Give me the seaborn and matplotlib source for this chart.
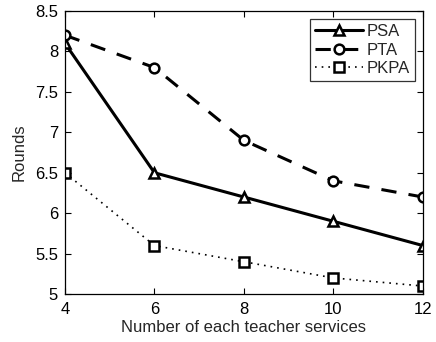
import matplotlib
matplotlib.use("Agg")
import matplotlib.pyplot as plt
import seaborn as sns
import pandas as pd

x_vals = [4, 6, 8, 10, 12]
psa = [8.1, 6.5, 6.2, 5.9, 5.6]
pta = [8.2, 7.8, 6.9, 6.4, 6.2]
pkpa = [6.5, 5.6, 5.4, 5.2, 5.1]
series_names = ["PSA", "PTA", "PKPA"]

sns.set_theme(style="ticks")
plt.rcParams['font.family'] = ['Liberation Sans', 'DejaVu Sans']

df = pd.DataFrame({
    "x": x_vals * 3,
    "y": psa + pta + pkpa,
    "series": [s for s in series_names for _ in x_vals],
})

fig = plt.figure(figsize=(4.36, 3.42), dpi=100)
ax = fig.add_axes([0.149, 0.140, 0.821, 0.828])

styles = {
    "PSA": dict(linestyle="-", marker="^", lw=2.2),
    "PTA": dict(linestyle=(0, (5, 4)), marker="o", lw=2.2),
    "PKPA": dict(linestyle=(0, (1, 3)), marker="s", lw=1.2),
}
for name in series_names:
    st = styles[name]
    sub = df[df["series"] == name]
    sns.lineplot(data=sub, x="x", y="y", ax=ax, color="black", label=name,
                 linestyle=st["linestyle"], linewidth=st["lw"], marker=st["marker"],
                 markersize=7, markerfacecolor="white", markeredgecolor="black",
                 markeredgewidth=1.8)

ax.set_xlim(4, 12)
ax.set_ylim(5, 8.5)
ax.set_xticks(x_vals)
ax.set_yticks([5, 5.5, 6, 6.5, 7, 7.5, 8, 8.5])
ax.set_yticklabels(["5", "5.5", "6", "6.5", "7", "7.5", "8", "8.5"])
ax.tick_params(axis="x", pad=6)
ax.tick_params(axis="y", pad=5)
ax.tick_params(direction="in", length=4, width=0.8, labelsize=12, colors="black",
               top=True, right=True)
for sp in ax.spines.values():
    sp.set_visible(True)
    sp.set_color("black")
    sp.set_linewidth(0.9)
ax.set_xlabel("Number of each teacher services", fontsize=12, labelpad=2)
ax.set_ylabel("Rounds", fontsize=12, labelpad=6)

leg = ax.legend(loc="upper right", fontsize=12, frameon=True, fancybox=False,
                edgecolor="black", handlelength=2.9, borderaxespad=0.5,
                handletextpad=0.2, labelspacing=0.2, borderpad=0.3)
leg.get_frame().set_linewidth(0.9)

fig.savefig("out.png", dpi=100)
